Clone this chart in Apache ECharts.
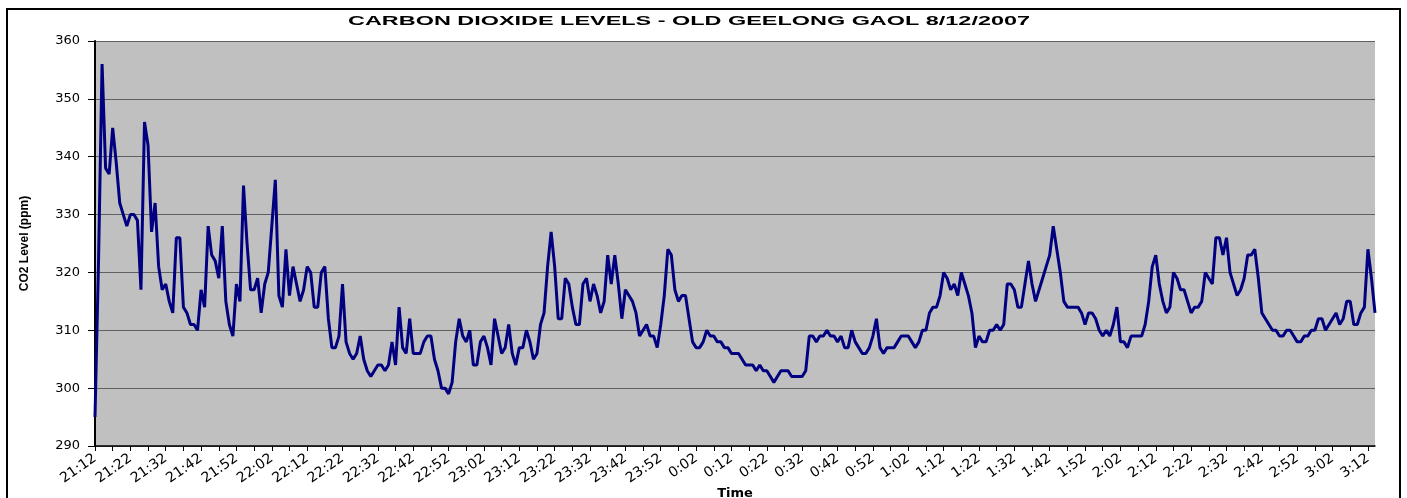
<!DOCTYPE html>
<html><head><meta charset="utf-8">
<script src="https://cdn.jsdelivr.net/npm/echarts/dist/echarts.min.js"></script>
<style>html,body{margin:0;padding:0;background:#fff}#c{width:1407px;height:498px}</style>
</head><body><div id="c"></div>
<script>
const titleText = 'CARBON DIOXIDE LEVELS - OLD GEELONG GAOL 8/12/2007';
const yAxisName = 'CO2 Level (ppm)';
const xAxisName = 'Time';
const startHour = 21, startMinute = 12;
const yMin = 290, yMax = 360, yStep = 10;

// CO2 readings, one per minute, grouped by clock hour
const co2_21h = [295,322,356,338,337,345,339,332,330,328,330,330,329,317,346,342,327,332,321,317,
  318,315,313,326,326,314,313,311,311,310,317,314,328,323,322,319,328,315,311,309,
  318,315,335,325,317,317,319,313];
const co2_22h = [318,320,328,336,316,314,324,316,321,318,315,317,321,320,314,314,320,321,312,307,
  307,309,318,308,306,305,306,309,305,303,302,303,304,304,303,304,308,304,314,307,
  306,312,306,306,306,308,309,309,305,303,300,300,299,301,308,312,309,308,310,304];
const co2_23h = [304,308,309,307,304,312,309,306,307,311,306,304,307,307,310,308,305,306,311,313,
  321,327,321,312,312,319,318,314,311,311,318,319,315,318,316,313,315,323,318,323,
  318,312,317,316,315,313,309,310,311,309,309,307,311,316,324,323,317,315,316,316];
const co2_00h = [312,308,307,307,308,310,309,309,308,308,307,307,306,306,306,305,304,304,304,303,
  304,303,303,302,301,302,303,303,303,302,302,302,302,303,309,309,308,309,309,310,
  309,309,308,309,307,307,310,308,307,306,306,307,309,312,307,306,307,307,307,308];
const co2_01h = [309,309,309,308,307,308,310,310,313,314,314,316,320,319,317,318,316,320,318,316,
  313,307,309,308,308,310,310,311,310,311,318,318,317,314,314,318,322,318,315,317,
  319,321,323,328,324,320,315,314,314,314,314,313,311,313,313,312,310,309,310,309];
const co2_02h = [311,314,308,308,307,309,309,309,309,311,315,321,323,318,315,313,314,320,319,317,
  317,315,313,314,314,315,320,319,318,326,326,323,326,320,318,316,317,319,323,323,
  324,319,313,312,311,310,310,309,309,310,310,309,308,308,309,309,310,310,312,312];
const co2_03h = [310,311,312,313,311,312,315,315,311,311,313,314,324,319,313];

const co2 = [].concat(co2_21h, co2_22h, co2_23h, co2_00h, co2_01h, co2_02h, co2_03h);
const categories = co2.map((_, i) => {
  const t = startHour * 60 + startMinute + i;
  const h = Math.floor(t / 60) % 24, m = t % 60;
  return h + ':' + String(m).padStart(2, '0');
});

// title horizontal stretch (the source renders its text wide)
const titleFont = 'bold 13px "Liberation Sans"';
const cv = document.createElement('canvas').getContext('2d');
cv.font = titleFont;
const titleScale = 682 / cv.measureText(titleText).width;

const chart = echarts.init(document.getElementById('c'), null, {renderer: 'canvas'});
chart.setOption({
  animation: false,
  backgroundColor: '#ffffff',
  grid: {left: 95, top: 41, right: 32, bottom: 52, containLabel: false, outerBoundsMode: 'none',
         show: true, backgroundColor: '#C0C0C0', borderWidth: 0},
  xAxis: {
    type: 'category', data: categories, boundaryGap: false,
    axisLine: {lineStyle: {color: '#000', width: 1.5}},
    axisTick: {interval: 4, length: 5, lineStyle: {color: '#000', width: 1}},
    axisLabel: {interval: 9, rotate: 35, margin: 11, fontFamily: 'DejaVu Sans', fontSize: 14, color: '#000'},
    splitLine: {show: false},
    name: xAxisName, nameLocation: 'middle', nameGap: 41, nameMoveOverlap: false,
    nameTextStyle: {fontFamily: 'DejaVu Sans', fontWeight: 'bold', fontSize: 13, color: '#000'}
  },
  yAxis: {
    type: 'value', min: yMin, max: yMax, interval: yStep,
    axisLine: {show: true, lineStyle: {color: '#000', width: 2}},
    axisTick: {show: true, length: 7, lineStyle: {color: '#000', width: 1}},
    axisLabel: {margin: 15, fontFamily: 'DejaVu Sans', fontSize: 13, color: '#000'},
    splitLine: {lineStyle: {color: '#606060', width: 1}},
    name: yAxisName, nameLocation: 'middle', nameGap: 64, nameRotate: 90, nameMoveOverlap: false,
    nameTextStyle: {fontFamily: 'Liberation Sans', fontWeight: 'bold', fontSize: 12, color: '#000'}
  },
  series: [{
    type: 'line', data: co2, showSymbol: false, symbol: 'none',
    lineStyle: {color: '#000080', width: 3}, itemStyle: {color: '#000080'}
  }],
  graphic: [
    {type: 'rect', silent: true, z: 100, shape: {x: 7, y: 9, width: 1393, height: 520},
     style: {fill: null, stroke: '#000', lineWidth: 2}},
    {type: 'text', silent: true, z: 100, x: 689, y: 21, scaleX: titleScale,
     style: {text: titleText, font: titleFont, textAlign: 'center', textVerticalAlign: 'middle', fill: '#000'}}
  ]
});
</script></body></html>
